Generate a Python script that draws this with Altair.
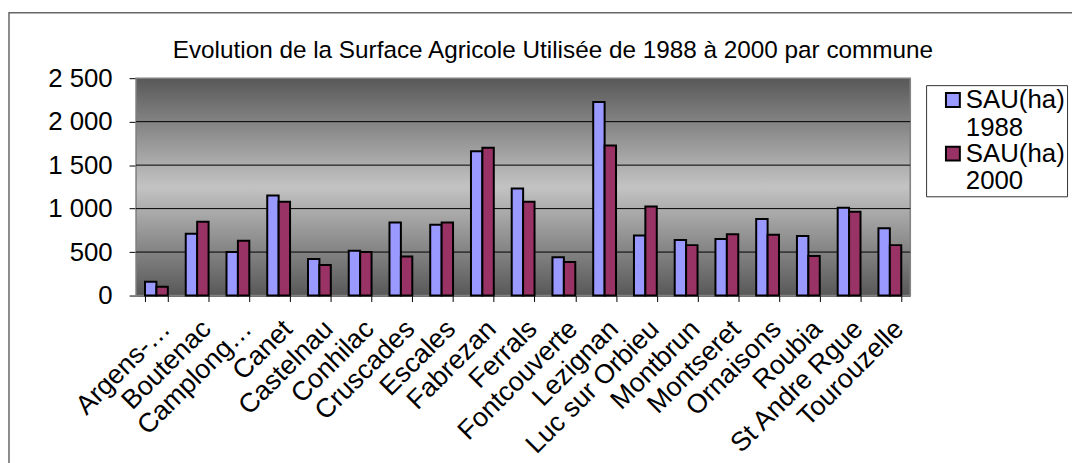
import altair as alt
import pandas as pd

communes = ["Argens-…", "Boutenac", "Camplong…", "Canet", "Castelnau", "Conhilac",
            "Cruscades", "Escales", "Fabrezan", "Ferrals", "Fontcouverte", "Lezignan",
            "Luc sur Orbieu", "Montbrun", "Montseret", "Ornaisons", "Roubia",
            "St Andre Rgue", "Tourouzelle"]
sau_1988 = [160, 710, 500, 1150, 420, 515, 840, 815, 1660, 1230, 440, 2225, 690, 640, 650, 880, 685, 1010, 775]
sau_2000 = [100, 850, 630, 1080, 350, 500, 450, 840, 1700, 1080, 385, 1725, 1025, 580, 705, 700, 455, 965, 580]
series = ["SAU(ha) 1988", "SAU(ha) 2000"]
colors = ["#9999FF", "#993366"]
y_ticks = [0, 500, 1000, 1500, 2000, 2500]
title_text = "Evolution de la Surface Agricole Utilisée de 1988 à 2000 par commune"

rows = []
for c, a, b in zip(communes, sau_1988, sau_2000):
    rows.append({"commune": c, "series": series[0], "value": a})
    rows.append({"commune": c, "series": series[1], "value": b})
df = pd.DataFrame(rows)

W, H = 780, 219
FONT = "Liberation Sans"

yscale = alt.Scale(domain=[y_ticks[0], y_ticks[-1]], nice=False)
yaxis = alt.Axis(values=y_ticks, grid=False, labelFontSize=26, labelFont=FONT,
                 labelColor="black", domainColor="black", tickColor="black",
                 tickSize=7, labelPadding=17, title=None,
                 labelExpr="replace(format(datum.value, ','), ',', ' ')")

bg = alt.Chart(pd.DataFrame({"a": [0]})).mark_rect(
    fill=alt.Gradient(
        gradient="linear", x1=0, y1=0, x2=0, y2=1,
        stops=[alt.GradientStop(offset=0, color="#585858"),
               alt.GradientStop(offset=0.5, color="#c3c3c3"),
               alt.GradientStop(offset=1, color="#585858")]),
    stroke="#808080", strokeWidth=1.5
).encode(x=alt.value(0), x2=alt.value(W), y=alt.value(0), y2=alt.value(H))

grid = alt.Chart(pd.DataFrame({"value": y_ticks[1:-1]})).mark_rule(
    color="black", strokeWidth=1
).encode(y=alt.Y("value:Q", scale=yscale, axis=yaxis, title=None))

bars = alt.Chart(df).mark_bar(stroke="black", strokeWidth=2).encode(
    x=alt.X("commune:N", sort=communes, title=None,
            scale=alt.Scale(paddingInner=0.44, paddingOuter=0.22),
            axis=alt.Axis(labelAngle=-45, labelFontSize=27, labelFont=FONT,
                          labelColor="black", domainColor="black", tickColor="black",
                          tickSize=6, tickBand="extent", labelPadding=14,
                          labelLimit=400)),
    xOffset=alt.XOffset("series:N", sort=series),
    y=alt.Y("value:Q", scale=yscale, title=None, axis=yaxis),
    color=alt.Color("series:N", scale=alt.Scale(domain=series, range=colors),
                    legend=alt.Legend(title=None, orient="none", legendX=796, legendY=7,
                                      strokeColor="#333333", fillColor="white",
                                      padding=2, symbolType="square", symbolSize=196,
                                      symbolStrokeColor="black", symbolStrokeWidth=2,
                                      symbolOffset=12, labelOffset=0,
                                      labelFontSize=26, labelFont=FONT, labelColor="black",
                                      labelExpr="split(datum.label, ' ')",
                                      labelLimit=400, rowPadding=-5))
)

title = alt.Chart(pd.DataFrame({"t": [title_text]})).mark_text(
    fontSize=24.5, font=FONT, color="black", align="center", baseline="alphabetic"
).encode(text="t:N", x=alt.value(420), y=alt.value(-20))

frame = alt.Chart(pd.DataFrame({"a": [0]})).mark_rect(
    fill="transparent", stroke="#666666", strokeWidth=1.5
).encode(x=alt.value(-128), y=alt.value(-66), x2=alt.value(1000), y2=alt.value(500))

chart = alt.layer(bg, grid, bars, title, frame).properties(
    width=W, height=H,
    padding={"left": 129, "top": 69, "right": 163, "bottom": 167},
    autosize=alt.AutoSizeParams(type="none"),
).configure_view(stroke=None).configure(background="white")

chart.save("out.html", embed_options={"renderer": "svg", "actions": False})
